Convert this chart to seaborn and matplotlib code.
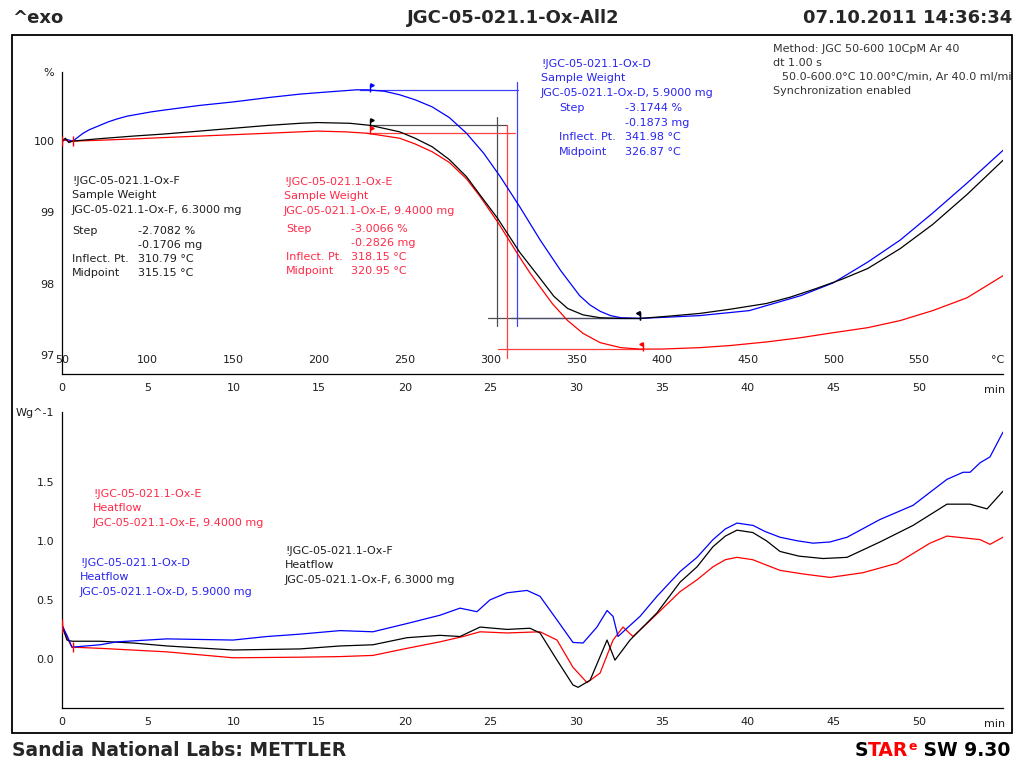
import matplotlib
matplotlib.use("Agg")
import matplotlib.pyplot as plt
import matplotlib.transforms as mtransforms
from matplotlib.ticker import MultipleLocator, FixedLocator, FixedFormatter
from matplotlib.patches import Rectangle
import seaborn as sns

# ---------------- data: TGA sample weight (%) vs time (min) ----------------
tga_time_d = [0, 0.3, 0.64, 0.9, 1.23, 1.6, 2.2, 2.7, 3.2, 3.8, 4.5, 5.2, 6.1, 8.0, 10.0, 12.0,
              13.9, 15.5, 17.2, 17.8, 18.8, 19.7, 20.6, 21.6, 22.6, 23.6, 24.6, 25.6, 26.7, 27.9,
              29.1, 30.2, 30.8, 31.4, 32.0, 32.6, 33.7, 35.5, 37.2, 40.1, 43.1, 45.0, 47.0, 48.9,
              50.8, 52.8, 54.9]
tga_d = [100.0, 100.02, 100.0, 100.05, 100.11, 100.16, 100.22, 100.27, 100.31, 100.35, 100.38,
         100.41, 100.44, 100.50, 100.55, 100.61, 100.66, 100.69, 100.72, 100.72, 100.70, 100.65,
         100.58, 100.48, 100.33, 100.11, 99.83, 99.49, 99.08, 98.61, 98.18, 97.83, 97.70,
         97.61, 97.55, 97.52, 97.51, 97.53, 97.55, 97.62, 97.83, 98.01, 98.30, 98.61, 98.99,
         99.41, 99.87]

tga_time_f = [0, 0.2, 0.4, 0.64, 2.0, 4.14, 6.0, 8.0, 10.0, 12.0, 13.9, 14.9, 16.8, 18.0, 19.7,
              20.6, 21.6, 22.6, 23.6, 24.4, 25.4, 26.7, 27.9, 28.7, 29.5, 30.4, 31.4, 32.6, 33.7,
              35.3, 37.2, 39.0, 41.1, 42.5, 44.0, 45.5, 47.0, 48.9, 50.8, 52.8, 54.9]
tga_f = [100.0, 100.04, 99.98, 100.0, 100.03, 100.07, 100.10, 100.14, 100.18, 100.22, 100.25,
         100.26, 100.25, 100.22, 100.13, 100.04, 99.92, 99.74, 99.50, 99.24, 98.92, 98.44, 98.07,
         97.82, 97.65, 97.56, 97.52, 97.51, 97.51, 97.54, 97.58, 97.64, 97.72, 97.81, 97.93,
         98.06, 98.21, 98.49, 98.83, 99.25, 99.73]

tga_time_e = [0, 0.2, 0.4, 0.64, 2.0, 4.14, 6.0, 8.0, 10.0, 12.0, 13.9, 14.9, 16.5, 17.8, 19.7,
              20.6, 21.6, 22.6, 23.6, 24.4, 25.4, 26.0, 26.7, 27.3, 27.9, 28.6, 29.5, 30.4, 31.4,
              32.6, 33.7, 35.0, 37.2, 39.0, 41.1, 43.1, 45.0, 47.0, 48.9, 50.8, 52.8, 54.9]
tga_e = [100.0, 100.02, 99.99, 100.0, 100.01, 100.03, 100.05, 100.07, 100.09, 100.11, 100.13,
         100.14, 100.13, 100.11, 100.04, 99.96, 99.85, 99.70, 99.47, 99.22, 98.87, 98.64, 98.37,
         98.15, 97.95, 97.72, 97.48, 97.30, 97.17, 97.10, 97.08, 97.08, 97.10, 97.13, 97.18,
         97.24, 97.31, 97.38, 97.48, 97.62, 97.80, 98.11]

# step evaluation constructions, order: D, F, E
step_upper_level = [100.72, 100.225, 100.12]
step_upper_span = [(17.4, 26.6), (17.95, 25.95), (17.8, 26.45)]
step_lower_level = [97.51, 97.51, 97.08]
step_lower_span = [(26.2, 33.7), (24.85, 33.72), (25.45, 33.9)]
step_vert_time = [26.55, 25.38, 25.96]
step_vert_span = [(100.83, 97.41), (100.34, 97.41), (100.225, 96.96)]
step_flag_upper = [17.97, 17.97, 17.97]
step_flag_lower = [33.72, 33.72, 33.9]

# ---------------- data: DSC heat flow (W/g) vs time (min) ----------------
hf_time_d = [0, 0.29, 0.58, 2.22, 3.21, 6.13, 9.98, 11.96, 13.89, 16.22, 18.14, 20.13, 22.05,
             23.22, 24.21, 24.97, 25.96, 27.13, 27.89, 28.88, 29.81, 30.4, 31.21, 31.8, 32.15,
             32.44, 32.96, 33.72, 34.71, 36.06, 37.05, 37.98, 38.7, 39.38, 40.32, 41.0, 41.89,
             42.9, 43.82, 44.8, 45.8, 47.72, 49.65, 51.63, 52.57, 52.98, 53.56, 54.14, 54.9]
hf_d = [0.28, 0.20, 0.10, 0.12, 0.145, 0.17, 0.16, 0.19, 0.21, 0.24, 0.23, 0.30, 0.37, 0.43,
        0.40, 0.50, 0.56, 0.58, 0.53, 0.33, 0.14, 0.135, 0.27, 0.41, 0.36, 0.19, 0.26, 0.36,
        0.53, 0.74, 0.86, 1.01, 1.10, 1.15, 1.13, 1.08, 1.03, 1.00, 0.98, 0.99, 1.03, 1.18,
        1.30, 1.52, 1.58, 1.58, 1.66, 1.71, 1.92]

hf_time_f = [0, 0.29, 0.58, 2.22, 4.14, 6.13, 9.98, 13.89, 16.22, 18.14, 20.13, 22.05, 23.22,
             24.39, 25.96, 27.3, 27.89, 28.88, 29.81, 30.11, 30.81, 31.8, 32.26, 33.14, 34.71,
             36.06, 37.05, 37.98, 38.7, 39.38, 40.3, 41.1, 41.89, 43.0, 44.4, 45.8, 47.72, 49.65,
             51.63, 52.98, 53.97, 54.9]
hf_f = [0.28, 0.16, 0.15, 0.15, 0.135, 0.11, 0.076, 0.085, 0.11, 0.12, 0.18, 0.20, 0.19, 0.27,
        0.25, 0.26, 0.22, -0.01, -0.22, -0.24, -0.18, 0.16, -0.01, 0.16, 0.39, 0.65, 0.78,
        0.95, 1.04, 1.09, 1.07, 1.00, 0.91, 0.87, 0.85, 0.86, 0.99, 1.13, 1.31, 1.31, 1.27, 1.42]

hf_time_e = [0, 0.29, 0.58, 2.22, 6.13, 9.98, 13.89, 16.22, 18.14, 20.13, 22.05, 23.4, 24.39,
             25.96, 27.89, 28.88, 29.81, 30.63, 31.39, 32.15, 32.73, 33.31, 34.13, 36.06, 37.05,
             37.98, 38.7, 39.38, 40.3, 41.0, 41.89, 43.2, 44.81, 46.73, 48.72, 50.64, 51.63,
             53.56, 54.14, 54.9]
hf_e = [0.30, 0.18, 0.10, 0.09, 0.06, 0.01, 0.015, 0.02, 0.03, 0.09, 0.145, 0.19, 0.23, 0.22,
        0.23, 0.16, -0.07, -0.20, -0.12, 0.16, 0.27, 0.19, 0.30, 0.57, 0.67, 0.78, 0.84, 0.86,
        0.84, 0.80, 0.75, 0.72, 0.69, 0.73, 0.81, 0.98, 1.04, 1.01, 0.97, 1.03]

# ---------------- axis labels ----------------
time_ticks = [0, 5, 10, 15, 20, 25, 30, 35, 40, 45, 50]
time_labels = ["0", "5", "10", "15", "20", "25", "30", "35", "40", "45", "50"]
temp_labels = ["50", "100", "150", "200", "250", "300", "350", "400", "450", "500", "550"]
tga_ticks = [97, 98, 99, 100, 100.97]
tga_tick_labels = ["97", "98", "99", "100", "%"]
hf_ticks = [0.0, 0.5, 1.0, 1.5, 2.09]
hf_tick_labels = ["0.0", "0.5", "1.0", "1.5", "Wg^-1"]

BLUE, BLACK, RED = "#0000ff", "#000000", "#ff0000"
BLUE_T, BLACK_T, RED_T, GREY_T = "#2a24f0", "#1e1e1e", "#ff2a48", "#333333"
STEP_COLORS = ["#4040ff", "#505050", "#ff4040"]

sns.set_style("white")
plt.rcParams["font.family"] = ["DejaVu Sans"]

W, H = 1017, 764
fig = plt.figure(figsize=(W / 100, H / 100), dpi=100)


def fx(x):
    return x / W


def fy(y):
    return 1 - y / H


ax_top = fig.add_axes([fx(62), fy(374), fx(1003) - fx(62), fy(72) - fy(374)])
ax_bot = fig.add_axes([fx(62), fy(708), fx(1003) - fx(62), fy(412) - fy(708)])

for ax in (ax_top, ax_bot):
    ax.set_facecolor("none")
    for s in ("top", "right"):
        ax.spines[s].set_visible(False)
    for s in ("left", "bottom"):
        ax.spines[s].set_color("black")
        ax.spines[s].set_linewidth(0.9)
    ax.set_xlim(0, 54.9)
    ax.xaxis.set_major_locator(FixedLocator(time_ticks))
    ax.xaxis.set_major_formatter(FixedFormatter(time_labels))
    ax.xaxis.set_minor_locator(MultipleLocator(1))
    ax.tick_params(axis="x", which="major", direction="inout", length=7, width=0.9,
                   labelsize=8, pad=3, colors="black", labelcolor=BLACK_T)
    ax.tick_params(axis="x", which="minor", direction="inout", length=4.5, width=0.9,
                   colors="black")
    ax.tick_params(axis="y", which="major", direction="out", length=3.5, width=0.9,
                   labelsize=8, pad=2, colors="black", labelcolor=BLACK_T)
    ax.tick_params(axis="y", which="minor", direction="out", length=2.5, width=0.9,
                   colors="black")
    ax.set_xlabel("")
    ax.set_ylabel("")
    ax.text(1.0, 0, "min", transform=mtransforms.offset_copy(ax.transAxes, fig=fig,
            x=-8, y=-16, units="dots"), ha="center", va="center", fontsize=8, color=BLACK_T)

# ---------------- top panel: TGA ----------------
ax_top.set_ylim(96.73, 100.97)
ax_top.yaxis.set_major_locator(FixedLocator(tga_ticks))
ax_top.yaxis.set_major_formatter(FixedFormatter(tga_tick_labels))
ax_top.yaxis.set_minor_locator(MultipleLocator(0.2))

# step constructions drawn beneath the curves
for i in range(3):
    c = STEP_COLORS[i]
    ax_top.plot(step_upper_span[i], [step_upper_level[i]] * 2, color=c, lw=0.9, zorder=1)
    ax_top.plot(step_lower_span[i], [step_lower_level[i]] * 2, color=c, lw=0.9, zorder=1)
    ax_top.plot([step_vert_time[i]] * 2, step_vert_span[i], color=c, lw=0.9, zorder=1)

for t, y, c in [(tga_time_d, tga_d, BLUE), (tga_time_e, tga_e, RED), (tga_time_f, tga_f, BLACK)]:
    sns.lineplot(x=t, y=y, ax=ax_top, color=c, lw=0.9, estimator=None, sort=False,
                 legend=False, zorder=3)

# evaluation flags on the baselines
curve_colors = [BLUE, BLACK, RED]
for i in range(3):
    c = curve_colors[i]
    ax_top.plot([step_flag_upper[i]], [step_upper_level[i] + 0.03], marker="|", ms=6,
                color=c, mew=1.0, zorder=4)
    ax_top.plot([step_flag_upper[i] + 0.12], [step_upper_level[i] + 0.07], marker=">", ms=2.5,
                color=c, zorder=4)
    ax_top.plot([step_flag_lower[i]], [step_lower_level[i] + 0.03], marker="|", ms=6,
                color=c, mew=1.0, zorder=4)
    ax_top.plot([step_flag_lower[i] - 0.12], [step_lower_level[i] + 0.07], marker="<", ms=2.5,
                color=c, zorder=4)

# integration limits at the start of the run
ax_top.plot([0, 0.64], [100.0, 100.0], ls="none", marker="|", ms=7, color=RED, mew=1.0, zorder=4)

# temperature scale above the time axis
temp_tr = mtransforms.offset_copy(ax_top.get_xaxis_transform(), fig=fig, x=0, y=14, units="dots")
for t, lab in zip(time_ticks, temp_labels):
    ax_top.text(t, 0, lab, transform=temp_tr, ha="center", va="center", fontsize=8,
                color=BLACK_T)
ax_top.text(1.0, 0, "°C", transform=mtransforms.offset_copy(ax_top.transAxes,
            fig=fig, x=-5, y=14, units="dots"), ha="center", va="center", fontsize=8,
            color=BLACK_T)

# ---------------- bottom panel: DSC ----------------
ax_bot.set_ylim(-0.415, 2.09)
ax_bot.yaxis.set_major_locator(FixedLocator(hf_ticks))
ax_bot.yaxis.set_major_formatter(FixedFormatter(hf_tick_labels))
ax_bot.yaxis.set_minor_locator(MultipleLocator(0.1))

for t, y, c in [(hf_time_e, hf_e, RED), (hf_time_f, hf_f, BLACK), (hf_time_d, hf_d, BLUE)]:
    sns.lineplot(x=t, y=y, ax=ax_bot, color=c, lw=0.9, estimator=None, sort=False,
                 legend=False, zorder=3)
ax_bot.plot([0.0], [0.28], marker="|", ms=10, color=RED, mew=1.0, zorder=4)
ax_bot.plot([0.64], [0.10], marker="|", ms=7, color=RED, mew=1.0, zorder=4)


# ---------------- annotation text ----------------
def put(x, y, s, color, size=8, **kw):
    return fig.text(fx(x), fy(y), s, color=color, fontsize=size, ha="left", va="center", **kw)


def block(x, y0, lines, color, step=14.3):
    for k, s in enumerate(lines):
        put(x, y0 + k * step, s, color)


block(72, 181, ["!JGC-05-021.1-Ox-F", "Sample Weight", "JGC-05-021.1-Ox-F, 6.3000 mg"], BLACK_T)
put(72, 231, "Step", BLACK_T)
put(138, 231, "-2.7082 %", BLACK_T)
put(138, 245, "-0.1706 mg", BLACK_T)
put(72, 259, "Inflect. Pt.", BLACK_T)
put(138, 259, "310.79 °C", BLACK_T)
put(72, 273, "Midpoint", BLACK_T)
put(138, 273, "315.15 °C", BLACK_T)

block(284, 182, ["!JGC-05-021.1-Ox-E", "Sample Weight", "JGC-05-021.1-Ox-E, 9.4000 mg"], RED_T)
put(286, 229, "Step", RED_T)
put(351, 229, "-3.0066 %", RED_T)
put(351, 243, "-0.2826 mg", RED_T)
put(286, 257, "Inflect. Pt.", RED_T)
put(351, 257, "318.15 °C", RED_T)
put(286, 271, "Midpoint", RED_T)
put(351, 271, "320.95 °C", RED_T)

block(541, 64, ["!JGC-05-021.1-Ox-D", "Sample Weight", "JGC-05-021.1-Ox-D, 5.9000 mg"], BLUE_T)
put(559, 108, "Step", BLUE_T)
put(625, 108, "-3.1744 %", BLUE_T)
put(625, 123, "-0.1873 mg", BLUE_T)
put(559, 137, "Inflect. Pt.", BLUE_T)
put(625, 137, "341.98 °C", BLUE_T)
put(559, 152, "Midpoint", BLUE_T)
put(625, 152, "326.87 °C", BLUE_T)

frame_clip = mtransforms.TransformedBbox(mtransforms.Bbox([[0, 0], [fx(1011), 1]]),
                                         fig.transFigure)
put(773, 49, "Method: JGC 50-600 10CpM Ar 40", GREY_T)
put(773, 63, "dt 1.00 s", GREY_T)
m = put(782, 77, "50.0-600.0°C 10.00°C/min, Ar 40.0 ml/min", GREY_T)
m.set_clip_box(frame_clip)
m.set_clip_on(True)
put(773, 91, "Synchronization enabled", GREY_T)

block(93, 494, ["!JGC-05-021.1-Ox-E", "Heatflow", "JGC-05-021.1-Ox-E, 9.4000 mg"], RED_T)
block(80, 563, ["!JGC-05-021.1-Ox-D", "Heatflow", "JGC-05-021.1-Ox-D, 5.9000 mg"], BLUE_T)
block(285, 551, ["!JGC-05-021.1-Ox-F", "Heatflow", "JGC-05-021.1-Ox-F, 6.3000 mg"], BLACK_T)

# ---------------- header, footer and frame ----------------
HEAD = 13
fig.text(fx(12), fy(18), "^exo", fontsize=HEAD, fontweight="bold", ha="left", va="center")
fig.text(fx(513), fy(18), "JGC-05-021.1-Ox-All2", fontsize=HEAD, fontweight="bold",
         ha="center", va="center")
fig.text(fx(1012), fy(18), "07.10.2011 14:36:34", fontsize=HEAD, fontweight="bold",
         ha="right", va="center")
fig.text(fx(12), fy(751), "Sandia National Labs: METTLER", fontsize=13.5, fontweight="bold",
         ha="left", va="center")

renderer = fig.canvas.get_renderer()
pieces = [("S", "black", 13.5, 0), ("TAR", RED, 13.5, 0), ("e", RED, 9, -5),
          (" SW 9.30", "black", 13.5, 0)]
x_cursor = 1010
for s, c, size, dy in reversed(pieces):
    t = fig.text(fx(x_cursor), fy(751 + dy), s, color=c, fontsize=size, fontweight="bold",
                 ha="right", va="center")
    x_cursor -= t.get_window_extent(renderer).width

fig.patches.append(Rectangle((fx(12), fy(733)), fx(1012) - fx(12), fy(35) - fy(733),
                             transform=fig.transFigure, fill=False, lw=1.3, ec="black"))

fig.savefig("out.png", dpi=100)
